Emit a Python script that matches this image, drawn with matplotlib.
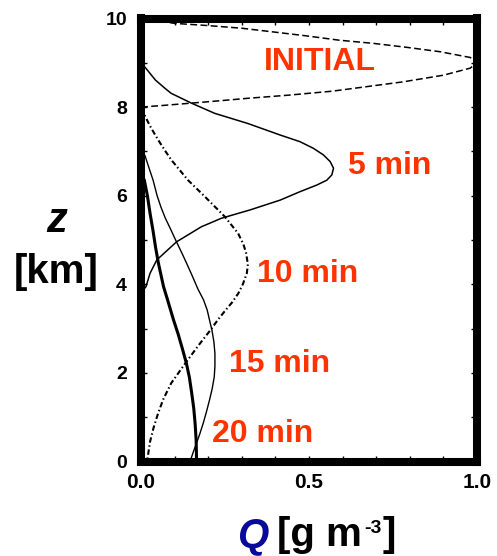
import matplotlib
matplotlib.use("Agg")
import matplotlib.pyplot as plt
from matplotlib.ticker import MultipleLocator

plt.rcParams['font.family'] = ['Liberation Sans', 'DejaVu Sans']

# ---- data ----
z_initial = [8.00, 8.04, 8.09, 8.14, 8.20, 8.27, 8.36, 8.48, 8.57, 8.72, 8.88, 9.00,
             9.12, 9.25, 9.35, 9.44, 9.51, 9.61, 9.70, 9.78, 9.84, 9.89, 9.95, 10.0]
q_initial = [0.00, 0.07, 0.15, 0.23, 0.32, 0.44, 0.57, 0.69, 0.78, 0.90, 0.98, 1.00,
             0.98, 0.89, 0.79, 0.69, 0.59, 0.49, 0.39, 0.30, 0.20, 0.10, 0.05, 0.00]

z_5min = [9.00, 8.90, 8.75, 8.61, 8.42, 8.31, 8.09, 7.86, 7.63, 7.37, 7.22, 7.07, 6.92,
          6.77, 6.62, 6.47, 6.35, 6.24, 6.09, 5.90, 5.68, 5.49, 5.38, 5.30, 4.96, 4.55,
          4.25, 3.95, 3.80]
q_5min = [0.000, 0.012, 0.028, 0.043, 0.072, 0.090, 0.150, 0.219, 0.318, 0.414, 0.473, 0.513, 0.543,
          0.563, 0.573, 0.568, 0.553, 0.523, 0.473, 0.414, 0.325, 0.239, 0.205, 0.180, 0.106, 0.047,
          0.027, 0.015, 0.000]

z_10min = [7.98, 7.80, 7.60, 7.40, 7.20, 7.00, 6.81, 6.35, 5.98, 5.53, 5.15, 4.90, 4.70, 4.45,
           4.25, 4.00, 3.80, 3.60, 3.40, 3.20, 2.97, 2.63, 2.25, 1.77, 1.40, 1.09, 0.75, 0.45,
           0.15, 0.00]
q_10min = [0.000, 0.012, 0.025, 0.040, 0.056, 0.073, 0.090, 0.140, 0.190, 0.249, 0.289, 0.305, 0.313, 0.318,
           0.315, 0.303, 0.290, 0.272, 0.250, 0.229, 0.207, 0.172, 0.135, 0.090, 0.066, 0.051, 0.037, 0.027,
           0.021, 0.018]

z_15min = [7.05, 6.90, 6.60, 6.35, 6.00, 5.75, 5.50, 5.23, 5.00, 4.70, 4.47, 4.20, 3.90, 3.65,
           3.42, 3.19, 2.97, 2.70, 2.44, 2.15, 1.91, 1.65, 1.39, 1.10, 0.86, 0.60, 0.41, 0.20, 0.00]
q_15min = [0.000, 0.012, 0.025, 0.036, 0.048, 0.059, 0.072, 0.089, 0.103, 0.122, 0.136, 0.152, 0.169, 0.186,
           0.197, 0.204, 0.211, 0.217, 0.220, 0.220, 0.218, 0.212, 0.204, 0.194, 0.185, 0.174, 0.165, 0.155, 0.146]

z_20min = [6.50, 6.35, 6.00, 5.60, 5.20, 4.85, 4.47, 3.95, 3.65, 3.42, 3.19, 2.89, 2.55, 2.22,
           1.90, 1.54, 1.20, 0.86, 0.50, 0.19, 0.00]
q_20min = [0.000, 0.010, 0.019, 0.027, 0.036, 0.043, 0.052, 0.067, 0.079, 0.088, 0.097, 0.110, 0.123, 0.135,
           0.144, 0.151, 0.157, 0.161, 0.164, 0.165, 0.165]

labels = ['INITIAL', '5 min', '10 min', '15 min', '20 min']
label_q = [0.533, 0.741, 0.496, 0.412, 0.363]
label_z = [9.02, 6.67, 4.24, 2.21, 0.63]

xticks_major = [0.0, 0.5, 1.0]
xtick_labels = ['0.0', '0.5', '1.0']
yticks_major = [0, 2, 4, 6, 8, 10]

# ---- figure ----
W, H = 497, 556
fig = plt.figure(figsize=(W / 100, H / 100), dpi=100)
ax = fig.add_axes([141 / W, 1 - 461.5 / H, 336 / W, 443 / H])

ax.plot(q_initial, z_initial, color='black', lw=1.1, linestyle=(0, (4.5, 2.2)))
ax.plot(q_5min, z_5min, color='black', lw=1.1, linestyle='-')
ax.plot(q_10min, z_10min, color='black', lw=1.5, linestyle=(0, (2.6, 1.3, 0.7, 1.3)))
ax.plot(q_15min, z_15min, color='black', lw=1.0, linestyle='-')
ax.plot(q_20min, z_20min, color='black', lw=2.2, linestyle='-')

for t, q, z in zip(labels, label_q, label_z):
    ax.text(q, z, t, color='#FF3300', fontsize=23, fontweight='bold',
            ha='center', va='center')

ax.set_xlim(0, 1)
ax.set_ylim(0, 10)
ax.set_xticks(xticks_major)
ax.set_xticklabels(xtick_labels)
ax.xaxis.set_minor_locator(MultipleLocator(0.1))
ax.set_yticks(yticks_major)
ax.yaxis.set_minor_locator(MultipleLocator(1))

for s in ax.spines.values():
    s.set_linewidth(5.8)
    s.set_capstyle('projecting')

ax.tick_params(which='both', direction='in', top=True, right=True,
               length=4, width=1.0, color='black')
ax.tick_params(axis='x', which='major', labelsize=15, pad=8)
ax.tick_params(axis='y', which='major', labelsize=14, pad=10)
for lab in ax.get_xticklabels() + ax.get_yticklabels():
    lab.set_fontweight('bold')

# axis labels
fig.text(57 / W, 1 - 231.7 / H, 'z', fontsize=30, fontweight='bold', fontstyle='italic',
         ha='center', va='baseline')
fig.text(56 / W, 1 - 283 / H, '[km]', fontsize=29, fontweight='bold',
         ha='center', va='baseline')

renderer = fig.canvas.get_renderer()
base = 1 - 546 / H
fig.text(237 / W, base, 'Q', fontsize=29, fontweight='bold', fontstyle='italic',
         color='#0A0A9A', ha='left', va='baseline')
t1 = fig.text(277 / W, base, '[g m', fontsize=29, fontweight='bold',
              ha='left', va='baseline')
x1 = t1.get_window_extent(renderer).x1
t2 = fig.text((x1 + 2) / W, 1 - 533 / H, '-3', fontsize=14, fontweight='bold',
              ha='left', va='baseline')
x2 = t2.get_window_extent(renderer).x1
fig.text((x2 + 1) / W, base, ']', fontsize=29, fontweight='bold',
         ha='left', va='baseline')

fig.savefig('out.png', dpi=100)
